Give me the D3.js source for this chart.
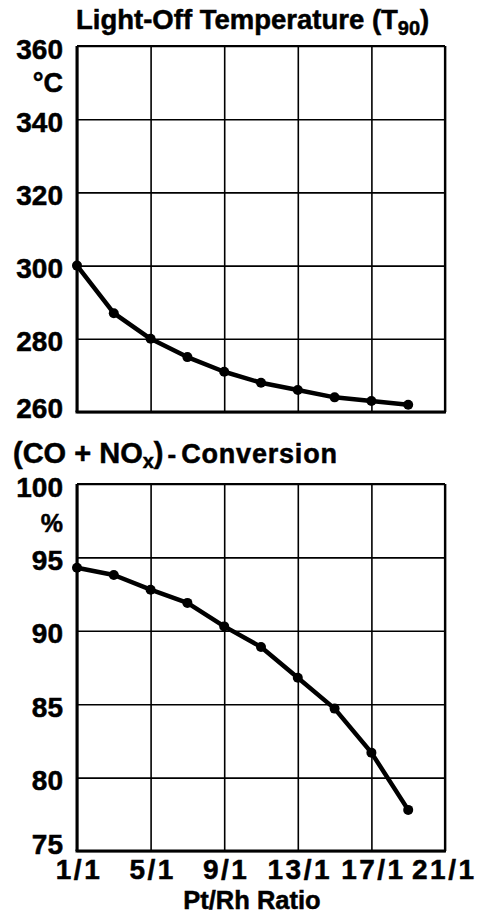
<!DOCTYPE html>
<html>
<head>
<meta charset="utf-8">
<script src="https://cdn.jsdelivr.net/npm/d3@7"></script>
<style>
  html, body { margin: 0; padding: 0; background: #fff; }
  svg { display: block; }
  text { font-family: "Liberation Sans", Arial, Helvetica, sans-serif; font-weight: bold; fill: #000;
         stroke: #000; stroke-width: 0.5px; }
</style>
</head>
<body>
<svg id="chart" width="479" height="915"></svg>
<script>
// Pt/Rh ratio (x:1) for each measured catalyst
const ratios = [1, 3, 5, 7, 9, 11, 13, 15, 17, 19];
// Light-off temperature T90, °C
const lightOff = [300, 287, 280, 275, 271, 268, 266, 264, 263, 262];
// Combined CO + NOx conversion, %
const conversion = [94.3, 93.8, 92.8, 91.9, 90.3, 88.9, 86.8, 84.7, 81.7, 77.8];
// Axis ticks
const xTicks = [1, 5, 9, 13, 17, 21];
const tempTicks = [260, 280, 300, 320, 340, 360];
const convTicks = [75, 80, 85, 90, 95, 100];

const svg = d3.select("#chart");
const left = 77, right = 445;

const x = d3.scaleLinear().domain([1, 21]).range([left, right]);

function panel(cfg) {
  const y = d3.scaleLinear().domain(cfg.domain).range([cfg.bottom, cfg.top]);
  const g = svg.append("g");

  // vertical gridlines
  g.append("g")
    .attr("transform", `translate(0,${cfg.bottom})`)
    .call(d3.axisBottom(x).tickValues(xTicks).tickSize(-(cfg.bottom - cfg.top)).tickFormat(""))
    .call(a => a.select(".domain").remove())
    .call(a => a.selectAll("line").attr("stroke", "#000").attr("stroke-width", 1.6));

  // horizontal gridlines
  g.append("g")
    .attr("transform", `translate(${left},0)`)
    .call(d3.axisLeft(y).tickValues(cfg.ticks).tickSize(-(right - left)).tickFormat(""))
    .call(a => a.select(".domain").remove())
    .call(a => a.selectAll("line").attr("stroke", "#000").attr("stroke-width", 1.6));

  // frame: heavier left and bottom axes
  g.append("line").attr("x1", left).attr("x2", left).attr("y1", cfg.top).attr("y2", cfg.bottom)
    .attr("stroke", "#000").attr("stroke-width", 3);
  g.append("line").attr("x1", left - 1.5).attr("x2", right + 1).attr("y1", cfg.bottom).attr("y2", cfg.bottom)
    .attr("stroke", "#000").attr("stroke-width", 3);
  g.append("line").attr("x1", left).attr("x2", right).attr("y1", cfg.top).attr("y2", cfg.top)
    .attr("stroke", "#000").attr("stroke-width", 2.2);
  g.append("line").attr("x1", right).attr("x2", right).attr("y1", cfg.top).attr("y2", cfg.bottom)
    .attr("stroke", "#000").attr("stroke-width", 2.2);

  // y tick labels; the lowest one is lifted clear of the axis corner
  g.append("g")
    .attr("transform", `translate(${left},0)`)
    .call(d3.axisLeft(y).tickValues(cfg.ticks).tickSize(0).tickPadding(14))
    .call(a => a.select(".domain").remove())
    .call(a => a.selectAll("text")
      .attr("font-family", "Liberation Sans, Arial, sans-serif")
      .attr("font-weight", "bold")
      .attr("font-size", 28)
      .attr("fill", "#000")
      .attr("dy", d => d === cfg.domain[0] ? cfg.lowDy : 12));

  // unit label
  g.append("text").attr("x", 63).attr("y", cfg.unitY).attr("text-anchor", "end")
    .attr("font-size", cfg.unitSize).text(cfg.unit);

  // data line and points
  const pts = ratios.map((r, i) => [r, cfg.values[i]]);
  g.append("path")
    .datum(pts)
    .attr("fill", "none").attr("stroke", "#000").attr("stroke-width", 4.5)
    .attr("stroke-linejoin", "round").attr("stroke-linecap", "round")
    .attr("d", d3.line().x(d => x(d[0])).y(d => y(d[1])));
  g.selectAll("circle.pt").data(pts).enter().append("circle")
    .attr("class", "pt")
    .attr("cx", d => x(d[0])).attr("cy", d => y(d[1])).attr("r", 5).attr("fill", "#000");

  return y;
}

// Top panel: light-off temperature
panel({ domain: [260, 360], top: 46, bottom: 412, ticks: tempTicks, values: lightOff,
        unit: "°C", unitY: 92, unitSize: 27, lowDy: 5 });

// Bottom panel: conversion
panel({ domain: [75, 100], top: 484, bottom: 851, ticks: convTicks, values: conversion,
        unit: "%", unitY: 532, unitSize: 25, lowDy: 2 });

// Titles
const t1 = svg.append("text").attr("x", 76).attr("y", 29).attr("font-size", 27.5);
t1.append("tspan").text("Light-Off Temperature (T");
t1.append("tspan").attr("font-size", 20).attr("dy", 6).text("90");
t1.append("tspan").attr("dy", -6).text(")");

const t2 = svg.append("text").attr("x", 13).attr("y", 463);
t2.append("tspan").attr("font-size", 29).text("(CO + NO");
t2.append("tspan").attr("font-size", 20).attr("dy", 5).text("x");
t2.append("tspan").attr("font-size", 29).attr("dy", -5).text(")");
t2.append("tspan").attr("font-size", 26).attr("dx", 4).text("-");
t2.append("tspan").attr("font-size", 27).attr("dx", 5).attr("letter-spacing", 0.8).text("Conversion");

// x tick labels under the bottom panel; the last one is kept inside the page
svg.append("g")
  .attr("transform", `translate(0,851)`)
  .call(d3.axisBottom(x).tickValues(xTicks).tickSize(0).tickPadding(10).tickFormat(d => d + "/1"))
  .call(a => a.select(".domain").remove())
  .call(a => a.selectAll("text")
    .attr("font-family", "Liberation Sans, Arial, sans-serif")
    .attr("font-weight", "bold")
    .attr("font-size", 28)
    .attr("letter-spacing", 2.5)
    .attr("fill", "#000")
    .attr("dy", 18)
    .attr("text-anchor", d => d === 21 ? "end" : "middle")
    .attr("x", d => d === 21 ? 476 - x(21) : 1.5));

svg.append("text").attr("x", 252).attr("y", 909).attr("text-anchor", "middle")
  .attr("font-size", 25.5).text("Pt/Rh Ratio");
</script>
</body>
</html>
